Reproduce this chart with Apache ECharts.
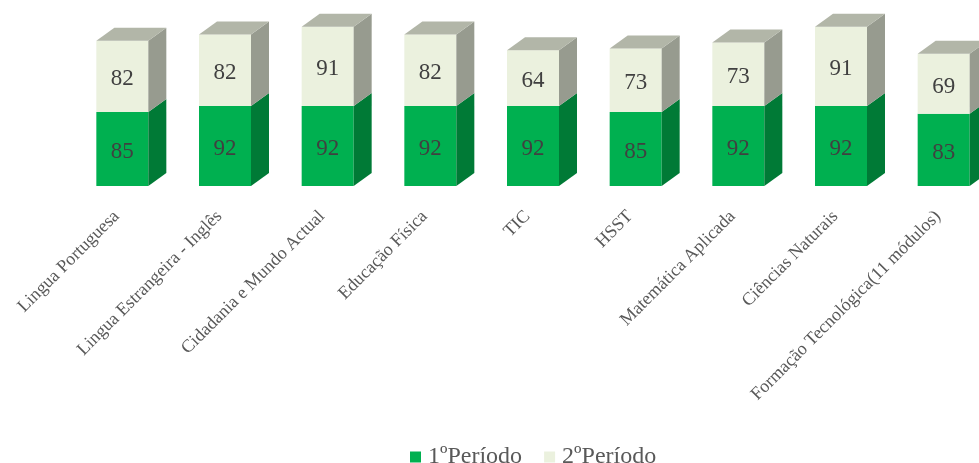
<!DOCTYPE html>
<html>
<head>
<meta charset="utf-8">
<script src="https://cdn.jsdelivr.net/npm/echarts@6/dist/echarts.min.js"></script>
<style>
  html, body { margin: 0; padding: 0; background: #fff; }
  #chart { width: 979px; height: 463px; }
</style>
</head>
<body>
<div id="chart"></div>
<script>
var categories = ['Lingua Portuguesa', 'Lingua Estrangeira - Inglês', 'Cidadania e Mundo Actual',
  'Educação Física', 'TIC', 'HSST', 'Matemática Aplicada', 'Ciências Naturais',
  'Formação Tecnológica(11 módulos)'];
var periodo1 = [85, 92, 92, 92, 92, 85, 92, 92, 83];
var periodo2 = [82, 82, 91, 82, 64, 73, 73, 91, 69];

var DX = 18, DY = 13;

function makeRender(front, side, top, drawTop) {
  return function (params, api) {
    var i = api.value(0);
    var p0 = api.coord([i, api.value(1)]);
    var p1 = api.coord([i, api.value(2)]);
    var w = 52;
    var x0 = p0[0] - w / 2, x1 = p0[0] + w / 2;
    var yb = p0[1], yt = p1[1];
    var children = [
      { type: 'rect', shape: { x: x0, y: yt, width: w, height: yb - yt }, style: { fill: front } },
      { type: 'polygon', shape: { points: [[x1, yb], [x1 + DX, yb - DY], [x1 + DX, yt - DY], [x1, yt]] }, style: { fill: side } }
    ];
    if (drawTop) {
      children.push({ type: 'polygon', shape: { points: [[x0, yt], [x0 + DX, yt - DY], [x1 + DX, yt - DY], [x1, yt]] }, style: { fill: top } });
    }
    children.push({
      type: 'text',
      style: {
        x: p0[0], y: (yb + yt) / 2 + 3, text: String(api.value(3)),
        align: 'center', verticalAlign: 'middle',
        font: '23px "Liberation Serif"', fill: '#404040'
      }
    });
    return { type: 'group', children: children };
  };
}

var data1 = categories.map(function (c, i) { return [i, 0, periodo1[i], periodo1[i]]; });
var data2 = categories.map(function (c, i) { return [i, periodo1[i], periodo1[i] + periodo2[i], periodo2[i]]; });

var chart = echarts.init(document.getElementById('chart'));
chart.setOption({
  animation: false,
  textStyle: { fontFamily: 'Liberation Serif' },
  grid: { left: 71, width: 924, top: 12, bottom: 277, outerBoundsMode: 'none', containLabel: false },
  legend: {
    left: 405, top: 440,
    itemWidth: 11, itemHeight: 11, itemGap: 22,
    icon: 'rect',
    textStyle: { fontFamily: 'Liberation Serif', fontSize: 24, color: '#595959', padding: [0, 0, 0, 2] },
    data: [
      { name: '1ºPeríodo', itemStyle: { color: '#00b050' } },
      { name: '2ºPeríodo', itemStyle: { color: '#ebf1de' } }
    ]
  },
  xAxis: {
    type: 'category',
    data: categories,
    axisLine: { show: false },
    axisTick: { show: false },
    axisLabel: {
      rotate: 45, interval: 0, margin: 22, padding: [0, 8, 0, 0],
      fontFamily: 'Liberation Serif', fontSize: 18, color: '#595959'
    }
  },
  yAxis: {
    type: 'value', min: 0, max: 200,
    show: false
  },
  series: [
    {
      name: '1ºPeríodo', type: 'custom', data: data1,
      encode: { x: 0, y: [1, 2] },
      itemStyle: { color: '#00b050' },
      renderItem: makeRender('#00b050', '#007a36', '#00903f', false)
    },
    {
      name: '2ºPeríodo', type: 'custom', data: data2,
      encode: { x: 0, y: [1, 2] },
      itemStyle: { color: '#ebf1de' },
      renderItem: makeRender('#ebf1de', '#979b8f', '#b2b6a8', true)
    }
  ]
});
</script>
</body>
</html>
